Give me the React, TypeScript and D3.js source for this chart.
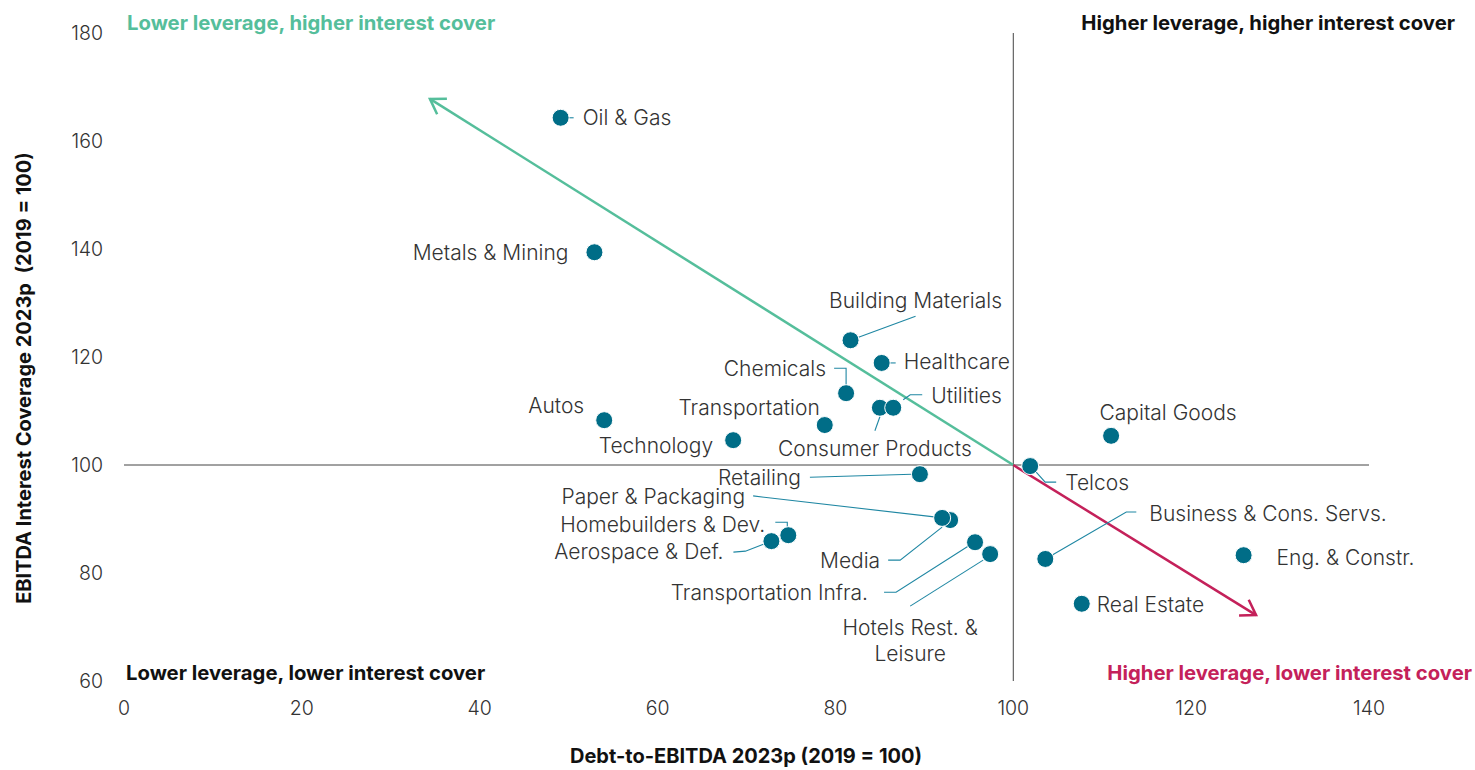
import React from "react";
import * as d3 from "d3";

// ---------- data ----------
const sectors = [
  "Oil & Gas", "Metals & Mining", "Building Materials", "Healthcare", "Chemicals",
  "Consumer Products", "Utilities", "Transportation", "Autos", "Technology",
  "Capital Goods", "Telcos", "Retailing", "Media", "Paper & Packaging",
  "Homebuilders & Dev.", "Aerospace & Def.", "Transportation Infra.",
  "Hotels Rest. & Leisure", "Business & Cons. Servs.", "Eng. & Constr.", "Real Estate",
];
const debtToEbitda = [
  49.1, 52.9, 81.7, 85.2, 81.2,
  85.0, 86.5, 78.8, 54.0, 68.5,
  111.0, 101.9, 89.5, 92.9, 92.0,
  74.7, 72.8, 95.7,
  97.4, 103.6, 125.9, 107.7,
];
const interestCover = [
  164.3, 139.4, 123.1, 118.9, 113.3,
  110.6, 110.6, 107.4, 108.3, 104.6,
  105.4, 99.8, 98.3, 89.8, 90.2,
  87.0, 85.9, 85.7,
  83.5, 82.6, 83.3, 74.3,
];
const xTicks = [0, 20, 40, 60, 80, 100, 120, 140];
const yTicks = [60, 80, 100, 120, 140, 160, 180];
const arrowGreenEnd = [34.4, 167.8];
const arrowRedEnd = [127.3, 72.2];
const arrowOrigin = [100, 100];

// ---------- layout (label offsets relative to point, px) ----------
type Lbl = { dx: number; dy: number; anchor: string; lines?: string[]; leader?: number[][] };
const labelLayout: Record<string, Lbl> = {
  "Oil & Gas": { dx: 22, dy: 0, anchor: "start", leader: [[8, 0], [13, 0]] },
  "Metals & Mining": { dx: -26, dy: 0, anchor: "end" },
  "Building Materials": { dx: 65, dy: -40, anchor: "middle", leader: [[8, -3], [65, -24]] },
  "Healthcare": { dx: 22, dy: -1, anchor: "start", leader: [[8, 0], [14, 0]] },
  "Chemicals": { dx: -20, dy: -25, anchor: "end", leader: [[-12, -25], [0, -25], [0, -8]] },
  "Consumer Products": { dx: -5, dy: 41, anchor: "middle", leader: [[0, 9], [-5, 23]] },
  "Utilities": { dx: 38, dy: -12, anchor: "start", leader: [[10, -8], [17, -13], [29, -13]] },
  "Transportation": { dx: -5, dy: -17, anchor: "end" },
  "Autos": { dx: -20, dy: -15, anchor: "end" },
  "Technology": { dx: -20, dy: 5, anchor: "end" },
  "Capital Goods": { dx: 57, dy: -23, anchor: "middle" },
  "Telcos": { dx: 35, dy: 17, anchor: "start", leader: [[6, 6], [15, 16], [26, 16]] },
  "Retailing": { dx: -119, dy: 3, anchor: "end", leader: [[-110, 3], [-8, 0]] },
  "Media": { dx: -70, dy: 41, anchor: "end", leader: [[-62, 40], [-50, 40], [-8, 7]] },
  "Paper & Packaging": { dx: -197, dy: -21, anchor: "end", leader: [[-189, -22], [-8, -1]] },
  "Homebuilders & Dev.": { dx: -23, dy: -11, anchor: "end", leader: [[-13, -13], [-1, -13], [-1, -7]] },
  "Aerospace & Def.": { dx: -48, dy: 11, anchor: "end", leader: [[-38, 11], [-26, 10], [-8, 3]] },
  "Transportation Infra.": { dx: -107, dy: 50, anchor: "end", leader: [[-91, 50], [-79, 50], [-7, 4]] },
  "Hotels Rest. & Leisure": { dx: -80, dy: 74, anchor: "middle", lines: ["Hotels Rest. &", "Leisure"], leader: [[-80, 52], [-7, 6]] },
  "Business & Cons. Servs.": { dx: 104, dy: -45, anchor: "start", leader: [[7, -4], [81, -47], [91, -47]] },
  "Eng. & Constr.": { dx: 33, dy: 2, anchor: "start" },
  "Real Estate": { dx: 15, dy: 1, anchor: "start" },
};

const W = 1475, H = 770;
const TEAL = "#006d87";
const LEADER = "#1f87a3";
const GREEN = "#55be9b";
const RED = "#c4215a";
const TEXT = "#333333";
const FONT = "Inter, 'Noto Sans', sans-serif";

export default function App() {
  const x = d3.scaleLinear().domain([0, 140]).range([124, 1369]);
  const y = d3.scaleLinear().domain([60, 180]).range([681, 33]);
  const line = d3.line<number[]>().x((d) => d[0]).y((d) => d[1]);

  const arrowHead = (from: number[], to: number[], color: string) => {
    const x0 = x(from[0]), y0 = y(from[1]), x1 = x(to[0]), y1 = y(to[1]);
    const ang = Math.atan2(y1 - y0, x1 - x0);
    const L = 17, spread = Math.PI / 5.5;
    const p1 = [x1 - L * Math.cos(ang - spread), y1 - L * Math.sin(ang - spread)];
    const p2 = [x1 - L * Math.cos(ang + spread), y1 - L * Math.sin(ang + spread)];
    return (
      <g>
        <path d={line([[x0, y0], [x1, y1]]) || ""} stroke={color} strokeWidth={2.5} fill="none" />
        <path d={line([p1, [x1, y1], p2]) || ""} stroke={color} strokeWidth={2.5} fill="none" strokeLinejoin="miter" />
      </g>
    );
  };

  return (
    <svg width={W} height={H} style={{ position: "absolute", left: 0, top: 0, background: "#fff" }} fontFamily={FONT}>
      {/* quadrant lines */}
      <line x1={x(0)} x2={x(140)} y1={y(100)} y2={y(100)} stroke="#444" strokeWidth={1} />
      <line x1={x(100)} x2={x(100)} y1={y(180)} y2={y(60)} stroke="#444" strokeWidth={1} />

      {/* ticks */}
      {yTicks.map((t) => (
        <text key={"y" + t} x={103} y={y(t)} dy="0.35em" textAnchor="end" fontSize={19.5} fontWeight={300} fill={TEXT}>{t}</text>
      ))}
      {xTicks.map((t) => (
        <text key={"x" + t} x={x(t)} y={708} dy="0.35em" textAnchor="middle" fontSize={19.5} fontWeight={300} fill={TEXT}>{t}</text>
      ))}

      {/* axis titles */}
      <text x={746} y={756} dy="0.35em" textAnchor="middle" fontSize={20} fontWeight={700} fill="#111">Debt-to-EBITDA 2023p (2019 = 100)</text>
      <text transform={`translate(24,378) rotate(-90)`} dy="0.35em" textAnchor="middle" fontSize={20} fontWeight={700} fill="#111" style={{ whiteSpace: "pre" }}>EBITDA Interest Coverage 2023p  (2019 = 100)</text>

      {/* quadrant labels */}
      <text x={127} y={23} dy="0.35em" fontSize={20.3} fontWeight={700} fill={GREEN}>Lower leverage, higher interest cover</text>
      <text x={1455} y={23} dy="0.35em" textAnchor="end" fontSize={20.3} fontWeight={700} fill="#111">Higher leverage, higher interest cover</text>
      <text x={126} y={673} dy="0.35em" fontSize={20.3} fontWeight={700} fill="#111">Lower leverage, lower interest cover</text>
      <text x={1472} y={673} dy="0.35em" textAnchor="end" fontSize={20.3} fontWeight={700} fill={RED}>Higher leverage, lower interest cover</text>

      {/* arrows */}
      {arrowHead(arrowOrigin, arrowGreenEnd, GREEN)}
      {arrowHead(arrowOrigin, arrowRedEnd, RED)}

      {/* leaders */}
      {sectors.map((s, i) => {
        const l = labelLayout[s];
        if (!l || !l.leader) return null;
        const px = x(debtToEbitda[i]), py = y(interestCover[i]);
        const pts = l.leader.map((p) => [px + p[0], py + p[1]]);
        return <path key={"ld" + s} d={line(pts) || ""} stroke={LEADER} strokeWidth={1.1} fill="none" />;
      })}

      {/* points */}
      {sectors.map((s, i) => (
        <circle key={"pt" + s} cx={x(debtToEbitda[i])} cy={y(interestCover[i])} r={8.5} fill={TEAL} stroke="#fff" strokeWidth={1} />
      ))}

      {/* labels */}
      {sectors.map((s, i) => {
        const l = labelLayout[s];
        const px = x(debtToEbitda[i]), py = y(interestCover[i]);
        const lines = l.lines || [s];
        return (
          <text key={"lb" + s} x={px + l.dx} y={py + l.dy} textAnchor={l.anchor} fontSize={21} fontWeight={300} fill={TEXT}>
            {lines.map((ln, k) => (
              <tspan key={k} x={px + l.dx} dy={k === 0 ? "0.35em" : "26"}>{ln}</tspan>
            ))}
          </text>
        );
      })}
    </svg>
  );
}
